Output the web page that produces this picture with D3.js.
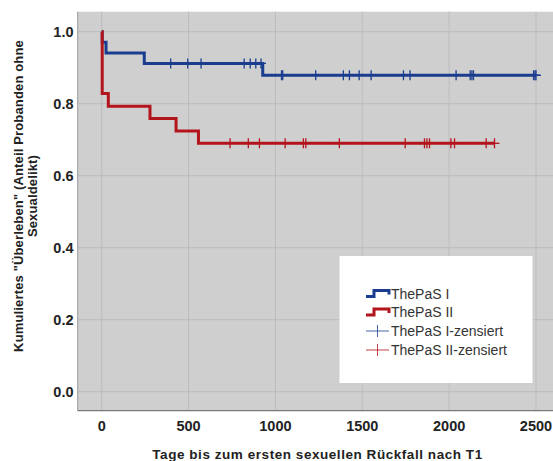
<!DOCTYPE html>
<html><head><meta charset="utf-8">
<script src="https://cdn.jsdelivr.net/npm/d3@7"></script>
<style>
html,body{margin:0;padding:0;background:#fff;}
text{font-family:"Liberation Sans",Arial,sans-serif;}
</style></head>
<body>
<svg id="chart" width="553" height="461"></svg>
<script>
// ---- data ----
const seriesNames = ["ThePaS I", "ThePaS II"];
const legendLabels = ["ThePaS I", "ThePaS II", "ThePaS I-zensiert", "ThePaS II-zensiert"];
const seriesColors = ["#1a3d8f", "#b3151c"];
const s1Times = [0, 3, 25, 245, 927];
const s1Surv  = [1.0, 0.971, 0.941, 0.912, 0.879];
const s1End = 2500;
const s1Censored = [397, 495, 572, 820, 855, 887, 917, 1035, 1042, 1232, 1391, 1426, 1482, 1551, 1737, 1775, 2040, 2121, 2131, 2140, 2486, 2494, 2500];
const s2Times = [0, 3, 38, 278, 428, 557];
const s2Surv  = [1.0, 0.828, 0.793, 0.759, 0.724, 0.690];
const s2End = 2261;
const s2Censored = [739, 844, 908, 1056, 1161, 1175, 1368, 1747, 1858, 1872, 1887, 2010, 2031, 2213, 2261];
const xTicks = [0, 500, 1000, 1500, 2000, 2500];
const yTicks = [0, 0.2, 0.4, 0.6, 0.8, 1.0];
const xTitle = "Tage bis zum ersten sexuellen Rückfall nach T1";
const yTitleLines = ["Kumuliertes \"Überleben\" (Anteil Probanden ohne", "Sexualdelikt)"];

// ---- layout ----
const svg = d3.select("#chart");
const plot = {left: 77.7, right: 553, top: 11.7, bottom: 410.7};
const x = d3.scaleLinear().domain([0, 2500]).range([101.7, 536]);
const y = d3.scaleLinear().domain([0, 1]).range([391.7, 31.7]);

svg.append("rect").attr("x", plot.left).attr("y", plot.top)
  .attr("width", plot.right - plot.left).attr("height", plot.bottom - plot.top)
  .attr("fill", "#cfcfcf");

// grid
svg.append("g").selectAll("line").data(xTicks).join("line")
  .attr("x1", d => x(d)).attr("x2", d => x(d))
  .attr("y1", plot.top).attr("y2", plot.bottom)
  .attr("stroke", "#bcbcbc").attr("stroke-width", 1);
svg.append("g").selectAll("line").data(yTicks).join("line")
  .attr("y1", d => y(d)).attr("y2", d => y(d))
  .attr("x1", plot.left).attr("x2", plot.right)
  .attr("stroke", "#bcbcbc").attr("stroke-width", 1);

// axes lines
svg.append("line").attr("x1", plot.left).attr("x2", plot.left).attr("y1", plot.top).attr("y2", plot.bottom)
  .attr("stroke", "#9a9a9a").attr("stroke-width", 1);
svg.append("line").attr("x1", plot.left).attr("x2", plot.right).attr("y1", plot.bottom).attr("y2", plot.bottom)
  .attr("stroke", "#7a7a7a").attr("stroke-width", 1.2);

// tick labels
svg.append("g").selectAll("text").data(yTicks).join("text")
  .attr("x", 73.5).attr("y", d => y(d)).attr("dy", "0.36em")
  .attr("text-anchor", "end").attr("font-size", 14.5).attr("font-weight", "bold")
  .attr("fill", "#222").text(d => d3.format(".1f")(d));
svg.append("g").selectAll("text").data(xTicks).join("text")
  .attr("x", d => x(d)).attr("y", 425.5).attr("dy", "0.36em")
  .attr("text-anchor", "middle").attr("font-size", 14.5).attr("font-weight", "bold")
  .attr("fill", "#222").text(d => d);

// titles
svg.append("text").attr("x", 317.5).attr("y", 454).attr("dy", "0.35em")
  .attr("text-anchor", "middle").attr("font-size", 13.5).attr("font-weight", "bold")
  .attr("letter-spacing", "0.55px")
  .attr("fill", "#222").text(xTitle);
const yt = svg.append("text").attr("transform", "translate(18,196) rotate(-90)")
  .attr("text-anchor", "middle").attr("font-size", 13).attr("font-weight", "bold")
  .attr("letter-spacing", "0.15px").attr("fill", "#222");
yTitleLines.forEach((t, i) => {
  yt.append("tspan").attr("x", 0).attr("y", i * 14).attr("dy", "0.35em").text(t);
});

// curves
function stepPoints(times, surv, end) {
  const pts = [];
  for (let i = 0; i < times.length; i++) {
    if (i > 0) pts.push([times[i], surv[i - 1]]);
    pts.push([times[i], surv[i]]);
  }
  pts.push([end, surv[surv.length - 1]]);
  return pts;
}
function survAt(times, surv, t) {
  let v = surv[0];
  for (let i = 0; i < times.length; i++) if (times[i] <= t) v = surv[i];
  return v;
}
const line = d3.line().x(d => x(d[0])).y(d => y(d[1]));
const series = [
  {times: s1Times, surv: s1Surv, end: s1End, cens: s1Censored, color: seriesColors[0]},
  {times: s2Times, surv: s2Surv, end: s2End, cens: s2Censored, color: seriesColors[1]}
];
series.forEach(s => {
  svg.append("path").datum(stepPoints(s.times, s.surv, s.end))
    .attr("d", line).attr("fill", "none").attr("stroke", s.color)
    .attr("stroke-width", 3).attr("stroke-linejoin", "miter");
});
series.forEach(s => {
  const g = svg.append("g").attr("stroke", s.color).attr("stroke-width", 1.3);
  s.cens.forEach(t => {
    const cx = x(t), cy = y(survAt(s.times, s.surv, t));
    g.append("line").attr("x1", cx).attr("x2", cx).attr("y1", cy - 5).attr("y2", cy + 5);
    g.append("line").attr("x1", cx - 5).attr("x2", cx + 5).attr("y1", cy).attr("y2", cy);
  });
});

// legend
const lg = svg.append("g");
lg.append("rect").attr("x", 339.5).attr("y", 256).attr("width", 193).attr("height", 127).attr("fill", "#fff");
const rowsY = [293.5, 312, 331, 350];
seriesColors.forEach((c, i) => {
  const yy = rowsY[i];
  lg.append("path")
    .attr("d", `M366,${yy + 3}H374V${yy - 3}H389V${yy + 1}`)
    .attr("fill", "none").attr("stroke", c).attr("stroke-width", 3);
});
seriesColors.forEach((c, i) => {
  const yy = rowsY[i + 2];
  lg.append("line").attr("x1", 366).attr("x2", 389).attr("y1", yy).attr("y2", yy).attr("stroke", c).attr("stroke-width", 1).attr("opacity", 0.8);
  lg.append("line").attr("x1", 377.5).attr("x2", 377.5).attr("y1", yy - 6).attr("y2", yy + 6).attr("stroke", c).attr("stroke-width", 1).attr("opacity", 0.8);
});
legendLabels.forEach((t, i) => {
  lg.append("text").attr("x", 391).attr("y", rowsY[i]).attr("dy", "0.36em")
    .attr("font-size", 14).attr("fill", "#333").text(t);
});
</script>
</body></html>
